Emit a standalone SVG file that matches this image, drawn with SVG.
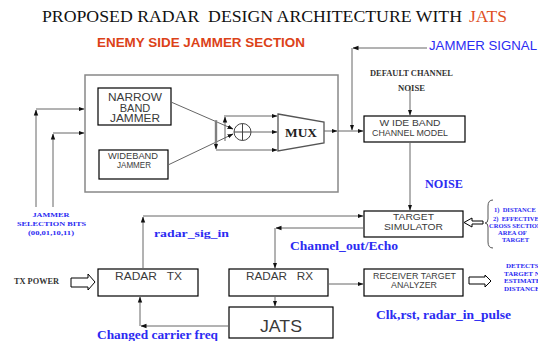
<svg xmlns="http://www.w3.org/2000/svg" width="538" height="341" viewBox="0 0 538 341">
<style>
.box{fill:#fff;stroke:#000;stroke-width:1.2}
.lbl{font-family:"Liberation Sans",Arial,sans-serif;fill:#3a3a3a;text-anchor:middle}
.blue{font-family:"Liberation Serif","Times New Roman",serif;font-weight:bold;fill:#2b2bf2}
.ser{font-family:"Liberation Serif","Times New Roman",serif;font-weight:bold;fill:#333}
.con{fill:none;stroke:#666;stroke-width:1}
.arr{marker-end:url(#ah)}
.hol{fill:#fff;stroke:#000;stroke-width:1}
.pre{white-space:pre}
</style>
<defs>
<marker id="ah" markerUnits="userSpaceOnUse" markerWidth="6" markerHeight="6" viewBox="0 0 6 6" refX="5.5" refY="3" orient="auto">
<path d="M0,0.8 L6,3 L0,5.2 Z" fill="#111"/>
</marker>
</defs>
<rect width="538" height="341" fill="#fff"/>

<g id="title">
<text class="pre" x="42" y="22" font-family="Liberation Serif,Times New Roman,serif" font-size="16" fill="#111" textLength="420" lengthAdjust="spacingAndGlyphs" xml:space="preserve">PROPOSED RADAR  DESIGN ARCHITECTURE WITH</text>
<text x="469" y="22" font-family="Liberation Serif,Times New Roman,serif" font-size="16" fill="#e0501f" textLength="38" lengthAdjust="spacingAndGlyphs">JATS</text>
<text x="97" y="47" font-family="Liberation Sans,Arial,sans-serif" font-weight="bold" font-size="12" fill="#dc4218" textLength="208" lengthAdjust="spacingAndGlyphs">ENEMY SIDE JAMMER SECTION</text>
</g>

<g id="jammer-section">
<rect x="85" y="75" width="253" height="117" fill="none" stroke="#888" stroke-width="1.5"/>
</g>

<g id="narrow-band-jammer">
<rect class="box" x="98" y="88" width="73" height="37"/>
<text class="lbl" x="135" y="101" font-size="11" textLength="54" lengthAdjust="spacingAndGlyphs">NARROW</text>
<text class="lbl" x="135" y="111.5" font-size="11">BAND</text>
<text class="lbl" x="135" y="122" font-size="11" textLength="50" lengthAdjust="spacingAndGlyphs">JAMMER</text>
</g>

<g id="wideband-jammer">
<rect class="box" x="99" y="150" width="69" height="29"/>
<text class="lbl" x="133" y="159" font-size="8.5" textLength="50" lengthAdjust="spacingAndGlyphs">WIDEBAND</text>
<text class="lbl" x="134" y="167.5" font-size="8.5" textLength="34" lengthAdjust="spacingAndGlyphs">JAMMER</text>
</g>

<g id="adder">
<circle cx="242.5" cy="132" r="8.5" fill="#fff" stroke="#444" stroke-width="1"/>
<line x1="234" y1="132" x2="251" y2="132" stroke="#444" stroke-width="1"/>
<line x1="242.5" y1="123.5" x2="242.5" y2="140.5" stroke="#444" stroke-width="1"/>
</g>

<g id="mux">
<polygon points="278,114 324,122 324,143 278,151" fill="#fff" stroke="#555" stroke-width="1.3"/>
<text x="301" y="137" font-family="Liberation Serif,Times New Roman,serif" font-weight="bold" font-size="12" fill="#222" text-anchor="middle" textLength="32" lengthAdjust="spacingAndGlyphs">MUX</text>
</g>

<g id="wideband-channel-model">
<rect class="box" x="364" y="116" width="101" height="26"/>
<text class="lbl pre" x="410" y="126" font-size="8.5" textLength="61" lengthAdjust="spacingAndGlyphs" xml:space="preserve">W IDE BAND</text>
<text class="lbl" x="410" y="135.5" font-size="8.8" textLength="76" lengthAdjust="spacingAndGlyphs">CHANNEL MODEL</text>
</g>

<g id="target-simulator">
<rect class="box" x="364" y="211" width="99" height="26"/>
<text class="lbl" x="413.5" y="220" font-size="9.5" textLength="41" lengthAdjust="spacingAndGlyphs">TARGET</text>
<text class="lbl" x="413.5" y="229.5" font-size="9.5" textLength="59" lengthAdjust="spacingAndGlyphs">SIMULATOR</text>
</g>

<g id="radar-tx">
<rect class="box" x="98" y="269" width="100" height="27"/>
<text class="lbl pre" x="148.5" y="280" font-size="10" textLength="67" lengthAdjust="spacingAndGlyphs" xml:space="preserve">RADAR   TX</text>
</g>

<g id="radar-rx">
<rect class="box" x="229" y="269" width="99" height="27"/>
<text class="lbl pre" x="279.5" y="280" font-size="10" textLength="67" lengthAdjust="spacingAndGlyphs" xml:space="preserve">RADAR   RX</text>
</g>

<g id="receiver-target-analyzer">
<rect class="box" x="364" y="269" width="99" height="27"/>
<text class="lbl" x="414.5" y="278.5" font-size="8.5" textLength="83" lengthAdjust="spacingAndGlyphs">RECEIVER TARGET</text>
<text class="lbl" x="414" y="287.5" font-size="8.5" textLength="46" lengthAdjust="spacingAndGlyphs">ANALYZER</text>
</g>

<g id="jats">
<rect class="box" x="229" y="307" width="104" height="31"/>
<text class="lbl" x="281" y="332" font-size="16.5" textLength="42" lengthAdjust="spacingAndGlyphs">JATS</text>
</g>

<g id="connectors">
<path class="con arr" d="M36,207 V110"/>
<path class="con arr" d="M36,109 H84"/>
<path class="con arr" d="M53,207 V134"/>
<path class="con arr" d="M53,133 H84"/>
<path class="con arr" d="M171,102 L233,129"/>
<path class="con arr" d="M168,165 L233,134"/>
<line x1="216" y1="120" x2="216" y2="146" stroke="#999" stroke-width="2.5"/>
<path class="con arr" d="M216,121 V149"/>
<path class="con arr" d="M225,141 V117"/>
<path class="con arr" d="M224,116 H277"/>
<path class="con arr" d="M216,150 H277"/>
<path class="con arr" d="M251,132 H277"/>
<path class="con arr" d="M324,131 H337"/>
<path class="con arr" d="M338,131 H363"/>
<path class="con arr" d="M427,48 H353"/>
<path class="con arr" d="M352,48 V130"/>
<path class="con arr" d="M410,86 V115"/>
<path class="con arr" d="M410,142 V210"/>
<path class="con arr" d="M143,269 V217"/>
<path class="con arr" d="M143,216 H363"/>
<path class="con arr" d="M364,228 H276"/>
<path class="con arr" d="M275,228 V268"/>
<path class="con arr" d="M328,284 H363"/>
<path class="con arr" d="M275,296 V306"/>
<path class="con arr" d="M229,326 H141"/>
<path class="con arr" d="M140,326 V297"/>
<path d="M493,200 Q488,200 488,206 V219 Q488,223 485,223 Q488,223 488,227 V242 Q488,248 493,248" fill="none" stroke="#555" stroke-width="1"/>
<polygon class="hol" points="71,278 88,278 88,274 95,282 88,290 88,287 71,287"/>
<polygon class="hol" points="469,277 485,277 485,275 491,281 485,287 485,284 469,284"/>
<polygon class="hol" points="483,221 472,221 472,218 464,222.5 472,227 472,224 483,224"/>
</g>

<g id="labels">
<text x="429" y="50" font-family="Liberation Sans,Arial,sans-serif" font-size="13" fill="#2b2bf2" textLength="108" lengthAdjust="spacingAndGlyphs">JAMMER SIGNAL</text>
<text class="ser" x="370" y="76" font-size="7.5" textLength="83" lengthAdjust="spacingAndGlyphs">DEFAULT CHANNEL</text>
<text class="ser" x="398" y="91" font-size="7.5" textLength="27" lengthAdjust="spacingAndGlyphs">NOISE</text>
<text class="blue" x="425" y="188" font-size="12" textLength="38" lengthAdjust="spacingAndGlyphs">NOISE</text>
<text class="blue" x="154" y="237" font-size="11" textLength="75" lengthAdjust="spacingAndGlyphs">radar_sig_in</text>
<text class="blue" x="290" y="250" font-size="11.5" textLength="108" lengthAdjust="spacingAndGlyphs">Channel_out/Echo</text>
<text class="blue" x="97" y="339" font-size="12" textLength="121" lengthAdjust="spacingAndGlyphs">Changed carrier freq</text>
<text class="blue" x="376" y="319" font-size="12" textLength="135" lengthAdjust="spacingAndGlyphs">Clk,rst, radar_in_pulse</text>
<text class="ser" x="14" y="284" font-size="7.5" fill="#222" textLength="45" lengthAdjust="spacingAndGlyphs">TX POWER</text>
<g class="blue" font-size="7" text-anchor="middle">
<text x="51" y="217" textLength="37" lengthAdjust="spacingAndGlyphs">JAMMER</text>
<text x="51.5" y="226" textLength="69" lengthAdjust="spacingAndGlyphs">SELECTION BITS</text>
<text x="51" y="235" textLength="46" lengthAdjust="spacingAndGlyphs">(00,01,10,11)</text>
</g>
<g class="blue" font-size="6.5">
<text class="pre" x="494" y="212" xml:space="preserve">1)  DISTANCE</text>
<text class="pre" x="493" y="221" xml:space="preserve">2)  EFFECTIVE</text>
<text x="489" y="228">CROSS SECTION</text>
<text x="498" y="235">AREA OF</text>
<text x="502" y="242">TARGET</text>
</g>
<g class="blue" font-size="7">
<text x="506" y="268">DETECTS</text>
<text x="504" y="275.5">TARGET N</text>
<text x="504" y="283">ESTIMATE</text>
<text x="504" y="290.5">DISTANCE</text>
</g>
</g>
</svg>
